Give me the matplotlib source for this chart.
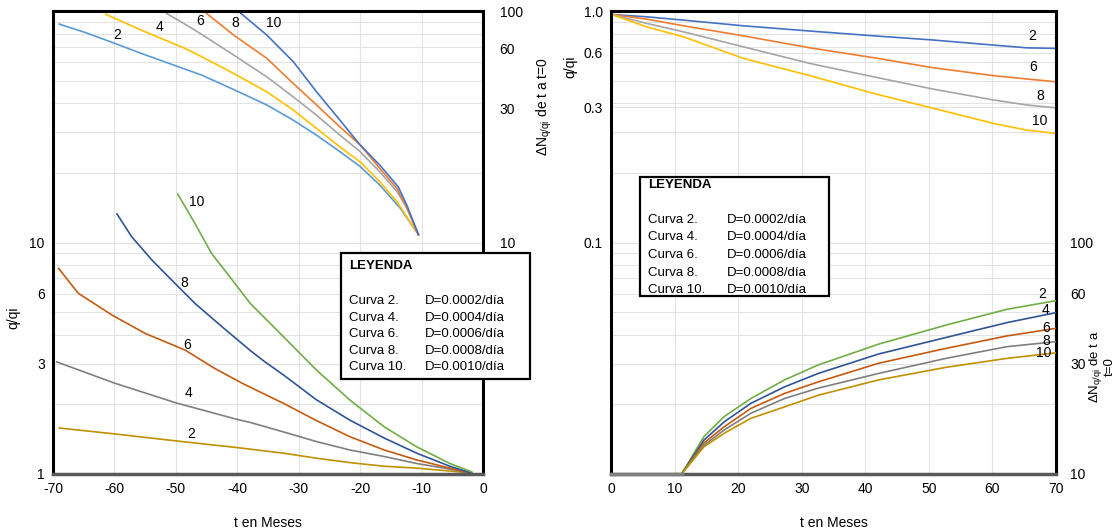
import matplotlib.pyplot as plt
import numpy as np

plt.rcParams['font.family'] = ['Liberation Sans', 'DejaVu Sans']
plt.rcParams['mathtext.fontset'] = 'custom'
plt.rcParams['mathtext.rm'] = 'Liberation Sans'
plt.rcParams['axes.unicode_minus'] = False

# ---- panel izquierdo (t negativo) ----
# q/qi, curvas inferiores: curva -> (t meses, q/qi)
izq_q = {
    2: ([-69.0, -60.0, -50.0, -40.0, -32.5, -27.1, -21.7, -16.1, -10.8, -5.4, -1.9],
        [1.58, 1.49, 1.39, 1.30, 1.23, 1.17, 1.12, 1.08, 1.06, 1.03, 1.01]),
    4: ([-69.4, -60.0, -50.0, -40.0, -37.9, -32.5, -27.1, -21.7, -16.1, -10.8, -5.4, -1.9],
        [3.05, 2.47, 2.03, 1.72, 1.67, 1.52, 1.38, 1.27, 1.19, 1.11, 1.05, 1.01]),
    6: ([-69.1, -65.9, -60.4, -55.0, -48.5, -43.6, -39.0, -32.5, -27.1, -21.7, -16.1, -10.8, -5.4, -1.9],
        [7.74, 6.04, 4.86, 4.05, 3.43, 2.85, 2.45, 2.02, 1.70, 1.45, 1.27, 1.15, 1.06, 1.01]),
    8: ([-59.6, -57.2, -53.9, -50.7, -46.9, -42.5, -37.8, -35.5, -32.5, -27.1, -21.7, -16.1, -10.8, -5.4, -1.9],
        [13.3, 10.6, 8.4, 6.89, 5.46, 4.33, 3.40, 3.05, 2.68, 2.09, 1.71, 1.43, 1.23, 1.08, 1.01]),
    10: ([-49.7, -46.9, -44.2, -40.4, -37.9, -32.5, -27.1, -21.7, -16.1, -10.8, -5.4, -1.8],
         [16.2, 12.1, 8.98, 6.66, 5.46, 3.92, 2.81, 2.09, 1.60, 1.31, 1.11, 1.02]),
}
# Delta N, curvas superiores
izq_dn = {
    2: ([-69.0, -64.8, -60.4, -55.6, -50.7, -45.8, -40.4, -35.2, -30.9, -27.1, -23.3, -20.0, -16.8, -13.5, -10.5],
        [87.9, 80.9, 73.3, 65.6, 58.9, 52.9, 45.6, 39.3, 33.8, 29.1, 24.7, 21.3, 17.7, 14.1, 10.8]),
    4: ([-61.4, -55.0, -48.5, -45.8, -40.6, -35.2, -30.9, -27.1, -23.3, -20.0, -16.8, -14.0, -10.5],
        [96.8, 81.4, 69.0, 63.5, 53.8, 44.8, 37.4, 31.1, 25.9, 22.3, 18.3, 15.0, 10.8]),
    6: ([-51.5, -46.9, -40.6, -35.2, -30.9, -27.1, -23.3, -20.0, -16.8, -14.0, -12.4, -10.5],
        [97.7, 82.8, 64.6, 52.0, 42.6, 35.5, 29.1, 24.7, 20.2, 16.6, 14.1, 10.8]),
    8: ([-45.0, -40.6, -35.2, -30.9, -27.1, -23.3, -20.0, -16.8, -14.0, -12.4, -10.5],
        [97.7, 78.8, 62.5, 48.7, 39.3, 31.6, 26.4, 20.9, 17.1, 14.1, 10.8]),
    10: ([-39.6, -35.2, -30.9, -27.1, -23.3, -20.0, -16.8, -13.8, -12.4, -10.5],
         [98.7, 78.8, 60.5, 44.8, 33.8, 26.4, 21.6, 17.4, 14.5, 10.8]),
}
izq_q_col = {2: '#BF9000', 4: '#7F7F7F', 6: '#C55A11', 8: '#2F5597', 10: '#70AD47'}
izq_dn_col = {2: '#5B9BD5', 4: '#FFC000', 6: '#A5A5A5', 8: '#ED7D31', 10: '#4472C4'}
izq_q_lab = {2: (-47.5, 1.49), 4: (-48.0, 2.23), 6: (-48.2, 3.61), 8: (-48.6, 6.7), 10: (-46.6, 14.9)}
izq_dn_lab = {2: (-59.6, 78.8), 4: (-52.7, 85.5), 6: (-46.1, 90.6), 8: (-40.3, 88.5), 10: (-34.0, 88.5)}

# ---- panel derecho (t positivo) ----
der_t = [0.1, 5.6, 11.4, 20.8, 31.3, 41.3, 50.7, 60.2, 65.4, 70.0]
der_q = {
    2: [0.967, 0.945, 0.914, 0.864, 0.820, 0.782, 0.750, 0.713, 0.694, 0.690],
    6: [0.967, 0.923, 0.864, 0.782, 0.694, 0.629, 0.569, 0.526, 0.509, 0.495],
    8: [0.967, 0.885, 0.814, 0.701, 0.594, 0.520, 0.460, 0.413, 0.393, 0.382],
    10: [0.967, 0.855, 0.774, 0.625, 0.526, 0.441, 0.380, 0.327, 0.306, 0.296],
}
der_t2 = [11.1, 14.6, 17.8, 22.0, 27.3, 32.6, 42.1, 52.7, 62.3, 70.0]
der_dn = {
    2: [10.0, 14.5, 17.7, 21.2, 25.5, 29.6, 36.4, 44.0, 51.5, 56.1],
    4: [10.0, 14.0, 16.8, 20.2, 23.8, 27.2, 33.0, 38.9, 45.1, 49.8],
    6: [10.0, 13.6, 16.0, 19.2, 22.3, 25.0, 30.1, 34.9, 39.5, 42.6],
    8: [10.0, 13.3, 15.5, 18.3, 21.2, 23.5, 27.2, 31.6, 35.5, 37.3],
    10: [10.0, 13.1, 15.0, 17.4, 19.5, 21.9, 25.5, 28.9, 31.6, 33.4],
}
der_q_col = {2: '#4472C4', 6: '#ED7D31', 8: '#A5A5A5', 10: '#FFC000'}
der_dn_col = {2: '#70AD47', 4: '#2F5597', 6: '#C55A11', 8: '#7F7F7F', 10: '#BF9000'}
der_q_lab = {2: (66.2, 0.782), 6: (66.4, 0.575), 8: (67.5, 0.430), 10: (67.5, 0.335)}
der_dn_lab = {2: (67.8, 59.9), 4: (68.3, 51.1), 6: (68.4, 42.6), 8: (68.5, 37.6), 10: (68.0, 33.2)}

# etiquetas de eje tal como aparecen impresas en el original
izq_q_ticks = [1, 3, 6, 10]
izq_dn_pos = [10, 38, 69, 100]
izq_dn_labels = ['10', '30', '60', '100']
der_q_pos = [1.0, 0.66, 0.385, 0.1]
der_q_labels = ['1.0', '0.6', '0.3', '0.1']
der_dn_ticks = [10, 30, 60, 100]

leyenda = ['Curva 2.', 'Curva 4.', 'Curva 6.', 'Curva 8.', 'Curva 10.']
valores_D = ['D=0.0002/día', 'D=0.0004/día', 'D=0.0006/día', 'D=0.0008/día', 'D=0.0010/día']

fig = plt.figure(figsize=(11.14, 5.29), dpi=100)
ax1 = fig.add_axes([0.0476, 0.104, 0.386, 0.875])
ax2 = fig.add_axes([0.5485, 0.104, 0.3995, 0.875])


def marco(ax):
    for s in ['left', 'top', 'right']:
        ax.spines[s].set_color('black')
        ax.spines[s].set_linewidth(2.2)
    ax.spines['bottom'].set_color('#595959')
    ax.spines['bottom'].set_linewidth(2.5)
    ax.grid(True, which='both', color='#E3E3E3', linewidth=0.8)
    ax.set_axisbelow(True)
    ax.tick_params(which='both', length=0, labelsize=10, pad=6)


# izquierdo
ax1.set_yscale('log')
ax1.set_xlim(-70, 0)
ax1.set_ylim(1, 100)
ax1.set_xticks(np.arange(-70, 1, 10))
ax1.set_yticks(izq_q_ticks)
ax1.set_yticklabels([str(v) for v in izq_q_ticks])
ax1.yaxis.set_minor_formatter(plt.NullFormatter())
marco(ax1)
for k, (t, v) in izq_q.items():
    ax1.plot(t, v, color=izq_q_col[k], lw=1.2)
    ax1.text(*izq_q_lab[k], str(k), fontsize=10, ha='center', va='center')
for k, (t, v) in izq_dn.items():
    ax1.plot(t, v, color=izq_dn_col[k], lw=1.2)
    ax1.text(*izq_dn_lab[k], str(k), fontsize=10, ha='center', va='center')
ax1.set_xlabel('t en Meses', fontsize=10, labelpad=14)
ax1.set_ylabel('q/qi', fontsize=10)
ax1.yaxis.set_label_coords(-0.077, 0.337)

ax1b = ax1.twinx()
ax1b.set_yscale('log')
ax1b.set_ylim(1, 100)
ax1b.set_yticks(izq_dn_pos)
ax1b.set_yticklabels(izq_dn_labels)
ax1b.yaxis.set_minor_formatter(plt.NullFormatter())
ax1b.tick_params(which='both', length=0, labelsize=10, pad=12)
for s in ax1b.spines.values():
    s.set_visible(False)
ax1b.set_ylabel(r'ΔN$_{\mathrm{q/qi}}$ de t a t=0', fontsize=10)
ax1b.yaxis.set_label_coords(1.119, 0.795)

# derecho
ax2.set_yscale('log')
ax2.set_xlim(0, 70)
ax2.set_ylim(0.01, 1.0)
ax2.set_xticks(np.arange(0, 71, 10))
ax2.set_yticks(der_q_pos)
ax2.set_yticklabels(der_q_labels)
ax2.yaxis.set_minor_formatter(plt.NullFormatter())
marco(ax2)
for k, v in der_q.items():
    ax2.plot(der_t, v, color=der_q_col[k], lw=1.2)
    ax2.text(*der_q_lab[k], str(k), fontsize=10, ha='center', va='center')
ax2.set_xlabel('t en Meses', fontsize=10, labelpad=14)
ax2.set_ylabel('q/qi', fontsize=10)
ax2.yaxis.set_label_coords(-0.076, 0.879)

ax2b = ax2.twinx()
ax2b.set_yscale('log')
ax2b.set_ylim(10, 1000)
ax2b.set_yticks(der_dn_ticks)
ax2b.set_yticklabels([str(v) for v in der_dn_ticks])
ax2b.yaxis.set_minor_formatter(plt.NullFormatter())
ax2b.tick_params(which='both', length=0, labelsize=10, pad=10)
for s in ax2b.spines.values():
    s.set_visible(False)
for k, v in der_dn.items():
    ax2b.plot(der_t2, v, color=der_dn_col[k], lw=1.2)
    ax2b.text(*der_dn_lab[k], str(k), fontsize=10, ha='center', va='center')
ax2b.plot([0, der_t2[0]], [10, 10], color='#7F7F7F', lw=2.5, clip_on=False)
ax2b.set_ylabel('ΔN$_{\\mathrm{q/qi}}$ de t a\nt=0', fontsize=9.5, linespacing=0.95)
ax2b.yaxis.set_label_coords(1.07, 0.231)


def caja(x0, y0, w, h, dy_titulo, filas_y, x_col2):
    fig.patches.append(plt.Rectangle((x0, y0), w, h, transform=fig.transFigure,
                                     facecolor='white', edgecolor='black', lw=1.6,
                                     zorder=10))
    fig.text(x0 + 0.007, y0 + h - dy_titulo, 'LEYENDA', fontsize=9.5,
             fontweight='bold', va='center', zorder=11)
    for i, (a, b) in enumerate(zip(leyenda, valores_D)):
        fig.text(x0 + 0.007, filas_y[i], a, fontsize=9.5, va='center', zorder=11)
        fig.text(x_col2, filas_y[i], b, fontsize=9.5, va='center', zorder=11)


caja(341 / 1114, 1 - 379 / 529, 189 / 1114, 126 / 529, 13.5 / 529,
     [1 - y / 529 for y in [300.7, 317.7, 334.3, 350.7, 367.3]], 425 / 1114)
caja(640 / 1114, 1 - 296 / 529, 189 / 1114, 119 / 529, 8.5 / 529,
     [1 - y / 529 for y in [220, 237.5, 255, 272.5, 290]], 727 / 1114)

fig.savefig('out.png', dpi=100)
